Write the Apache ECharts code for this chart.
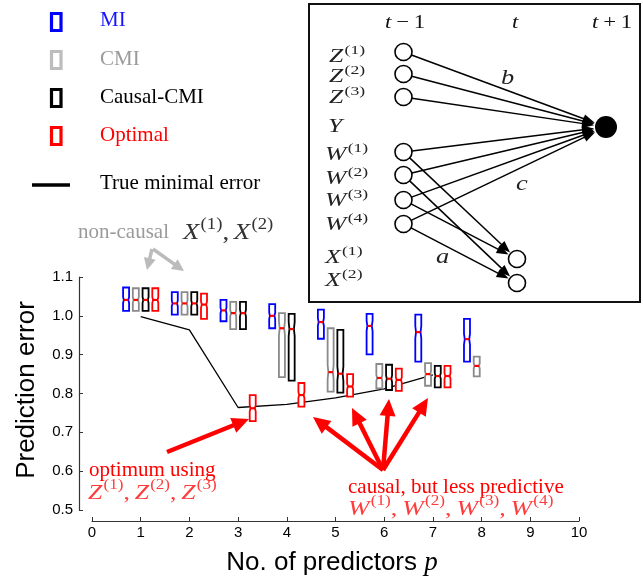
<!DOCTYPE html>
<html><head><meta charset="utf-8">
<script src="https://cdn.jsdelivr.net/npm/echarts@6/dist/echarts.min.js"></script>
<style>html,body{margin:0;padding:0;background:#fff}#c{width:643px;height:578px}</style>
</head><body><div id="c"></div>
<script>
// ---------- DATA ----------
const predictors = [1, 2, 3, 4, 5, 6, 7, 8];
const methodNames = ['MI', 'CMI', 'Causal-CMI', 'Optimal'];
// each box: [p, q1, median, q3]
const miBoxes = [
  [1, 1.013, 1.041, 1.073], [2, 1.003, 1.032, 1.061], [3, 0.986, 1.014, 1.041],
  [4, 0.968, 1.000, 1.030], [5, 0.941, 0.984, 1.016], [6, 0.901, 0.974, 1.005],
  [7, 0.882, 0.958, 1.003], [8, 0.882, 0.940, 0.992]
];
const cmiBoxes = [
  [1, 1.013, 1.041, 1.071], [2, 1.003, 1.032, 1.061], [3, 0.966, 1.007, 1.036],
  [4, 0.842, 0.968, 1.007], [5, 0.805, 0.855, 0.968], [6, 0.813, 0.840, 0.876],
  [7, 0.820, 0.850, 0.878], [8, 0.844, 0.871, 0.895]
];
const causalBoxes = [
  [1, 1.013, 1.041, 1.071], [2, 1.003, 1.032, 1.061], [3, 0.966, 1.007, 1.036],
  [4, 0.833, 0.966, 1.005], [5, 0.802, 0.851, 0.964], [6, 0.809, 0.838, 0.874],
  [7, 0.816, 0.845, 0.871]
];
const optimalBoxes = [
  [1, 1.013, 1.041, 1.071], [2, 0.992, 1.029, 1.057], [3, 0.729, 0.762, 0.796],
  [4, 0.766, 0.796, 0.827], [5, 0.792, 0.818, 0.850], [6, 0.807, 0.835, 0.864],
  [7, 0.816, 0.845, 0.871]
];
const minErrP = [1, 2, 3, 4, 5, 6, 7];
const minErr = [0.998, 0.964, 0.764, 0.772, 0.789, 0.812, 0.848];
const xTickMin = 0, xTickMax = 10, xTickStep = 1;
const yTickMin = 0.5, yTickMax = 1.1, yTickStep = 0.1;

// ---------- STYLE / LAYOUT ----------
const methodOffsets = [-0.3, -0.1, 0.1, 0.3];
const methodColors = ['#0000ff', '#8a8a8a', '#000000', '#ff0000'];
const SERIF = 'Liberation Serif';
const SANS = 'Liberation Sans';

function boxRender(offset, color) {
  return function (params, api) {
    const x = api.value(0) + offset;
    const top = api.coord([x, api.value(3)]);
    const bot = api.coord([x, api.value(1)]);
    const m = api.coord([x, api.value(2)]);
    const cx = top[0], hw = 3, ins = 0.75;
    const yt = top[1], yb = bot[1], ym = m[1];
    const n = Math.min(0.13 * (yb - yt), 7);
    const pts = [[cx - hw, yt], [cx - hw, ym - n], [cx - hw + ins, ym], [cx - hw, ym + n], [cx - hw, yb],
                 [cx + hw, yb], [cx + hw, ym + n], [cx + hw - ins, ym], [cx + hw, ym - n], [cx + hw, yt]];
    return {
      type: 'group', children: [
        { type: 'polygon', shape: { points: pts }, style: { fill: '#fff', stroke: color, lineWidth: 1.8 } },
        { type: 'line', shape: { x1: cx - hw + ins, y1: ym, x2: cx + hw - ins, y2: ym }, style: { stroke: '#ff0000', lineWidth: 2.2 } }
      ]
    };
  };
}

function arrow(x1, y1, x2, y2, color, lw, hl, hw, z) {
  const dx = x2 - x1, dy = y2 - y1, L = Math.hypot(dx, dy), ux = dx / L, uy = dy / L;
  const bx = x2 - ux * hl, by = y2 - uy * hl;
  return [
    { type: 'line', z: z, shape: { x1: x1, y1: y1, x2: bx + ux, y2: by + uy }, style: { stroke: color, lineWidth: lw } },
    { type: 'polygon', z: z, shape: { points: [[x2, y2], [bx - uy * hw, by + ux * hw], [bx + uy * hw, by - ux * hw]] }, style: { fill: color } }
  ];
}

const measureCtx = document.createElement('canvas').getContext('2d');
function fontStr(p) { return (p.it ? 'italic ' : '') + p.size + 'px ' + (p.fam || SERIF); }
// lay out pieces left-to-right around vertical center yc, horizontally stretched by sx
function mathRow(x, yc, pieces, color, sx, z) {
  sx = sx || 1;
  const out = [];
  let cx = x;
  pieces.forEach(p => {
    const f = fontStr(p);
    measureCtx.font = f;
    out.push({ type: 'text', z: z || 20, x: cx, y: yc - (p.dy || 0), scaleX: sx, style: { text: p.t, font: f, fill: color, verticalAlign: 'middle' } });
    cx += (measureCtx.measureText(p.t).width + (p.gap || 0)) * sx;
  });
  return out;
}
function seq(base, sups, size, sepSpace) {
  const pcs = [];
  sups.forEach((s, i) => {
    if (i > 0) pcs.push({ t: ',', size: size, gap: sepSpace });
    pcs.push({ t: base, it: true, size: size, gap: 1 });
    pcs.push({ t: '(' + s + ')', size: Math.round(size * 0.68), dy: size * 0.36 });
  });
  return pcs;
}

const g = [];
// ---- legend ----
const legendY = [22, 60, 98, 136];
const legendTextY = [20, 59, 97, 135];
const legendIconColors = ['#0000ff', '#bdbdbd', '#000000', '#ff0000'];
const legendTextColors = ['#1414ff', '#9a9a9a', '#000000', '#ff0000'];
methodNames.forEach((nm, i) => {
  g.push({ type: 'rect', shape: { x: 51.5, y: legendY[i] - 8.5, width: 9.5, height: 17 }, style: { fill: '#fff', stroke: legendIconColors[i], lineWidth: 3.2 } });
  g.push({ type: 'text', x: 100, y: legendTextY[i], style: { text: nm, font: '21px ' + SERIF, fill: legendTextColors[i], verticalAlign: 'middle' } });
});
g.push({ type: 'line', shape: { x1: 32, y1: 185, x2: 70, y2: 185 }, style: { stroke: '#000', lineWidth: 3.5 } });
g.push({ type: 'text', x: 100, y: 183, style: { text: 'True minimal error', font: '21px ' + SERIF, fill: '#000', verticalAlign: 'middle' } });

// ---- inset diagram ----
g.push({ type: 'rect', z: 5, shape: { x: 309, y: 4, width: 331, height: 298 }, style: { fill: '#fff', stroke: '#111', lineWidth: 2 } });
const colX = 403.5, nodeR = 8.5;
const zY = [52, 74, 97], wY = [152, 175, 200, 224];
const tgt = [606, 127], tgtR = 11;
const xN = [[517, 259], [517, 283]];
g.push(...mathRow(385, 23, [{ t: 't', it: true, size: 19, gap: 4 }, { t: '\u2212', size: 19, gap: 4 }, { t: '1', size: 19 }], '#111', 1.2));
g.push(...mathRow(512, 23, [{ t: 't', it: true, size: 19 }], '#111', 1.2));
g.push(...mathRow(592, 23, [{ t: 't', it: true, size: 19, gap: 4 }, { t: '+', size: 19, gap: 4 }, { t: '1', size: 19 }], '#111', 1.2));
function edgeTo(from, to, toR) {
  const dx = to[0] - from[0], dy = to[1] - from[1], L = Math.hypot(dx, dy);
  const sx = from[0] + dx / L * nodeR, sy = from[1] + dy / L * nodeR;
  const ex = to[0] - dx / L * (toR + 1), ey = to[1] - dy / L * (toR + 1);
  return arrow(sx, sy, ex, ey, '#000', 1.5, 12, 4.5, 10);
}
zY.forEach(y => g.push(...edgeTo([colX, y], tgt, tgtR)));
wY.forEach(y => g.push(...edgeTo([colX, y], tgt, tgtR)));
g.push(...edgeTo([colX, wY[0]], xN[0], nodeR));
g.push(...edgeTo([colX, wY[2]], xN[0], nodeR));
g.push(...edgeTo([colX, wY[1]], xN[1], nodeR));
g.push(...edgeTo([colX, wY[3]], xN[1], nodeR));
zY.concat(wY).forEach(y => g.push({ type: 'circle', z: 12, shape: { cx: colX, cy: y, r: nodeR }, style: { fill: '#fff', stroke: '#000', lineWidth: 1.6 } }));
xN.forEach(p => g.push({ type: 'circle', z: 12, shape: { cx: p[0], cy: p[1], r: nodeR }, style: { fill: '#fff', stroke: '#000', lineWidth: 1.6 } }));
g.push({ type: 'circle', z: 12, shape: { cx: tgt[0], cy: tgt[1], r: tgtR }, style: { fill: '#000' } });
[['Z', '1', 57], ['Z', '2', 77], ['Z', '3', 98]].forEach(t => g.push(...mathRow(329, t[2], seq(t[0], [t[1]], 19, 0), '#222', 1.35)));
g.push(...mathRow(328, 127, [{ t: 'Y', it: true, size: 19 }], '#222', 1.35));
[['W', '1', 155], ['W', '2', 179], ['W', '3', 201], ['W', '4', 225], ['X', '1', 258], ['X', '2', 281]].forEach(t => g.push(...mathRow(325, t[2], seq(t[0], [t[1]], 19, 0), '#222', 1.35)));
g.push(...mathRow(501, 78, [{ t: 'b', it: true, size: 22 }], '#222', 1.2));
g.push(...mathRow(516, 184, [{ t: 'c', it: true, size: 22 }], '#222', 1.2));
g.push(...mathRow(436, 257, [{ t: 'a', it: true, size: 22 }], '#222', 1.2));

// ---- annotations ----
g.push({ type: 'text', x: 78, y: 232, style: { text: 'non-causal', font: '21px ' + SERIF, fill: '#9a9a9a', verticalAlign: 'middle' } });
g.push(...mathRow(183, 233, seq('X', ['1', '2'], 23, 4), '#333', 1.17));
g.push(...arrow(152, 249, 147, 270, '#bbbbbb', 3.5, 12, 6, 15));
g.push(...arrow(153, 249, 184, 271, '#bbbbbb', 3.5, 12, 6, 15));
g.push({ type: 'text', x: 89, y: 470, style: { text: 'optimum using', font: '21px ' + SERIF, fill: '#ff0000', verticalAlign: 'middle' } });
g.push(...mathRow(88, 493, seq('Z', ['1', '2', '3'], 21, 4), '#ff3c3c', 1.22));
g.push(...arrow(167, 452, 249, 419, '#ff0000', 4.5, 17, 8, 15));
g.push({ type: 'text', x: 348, y: 487, style: { text: 'causal, but less predictive', font: '21px ' + SERIF, fill: '#ff0000', verticalAlign: 'middle' } });
g.push(...mathRow(348, 509, seq('W', ['1', '2', '3', '4'], 21, 4), '#ff3c3c', 1.23));
[[313, 417], [352, 408], [389, 399], [428, 398]].forEach(t => g.push(...arrow(383, 470, t[0], t[1], '#ff0000', 4.5, 17, 8, 15)));

// ---- axis titles ----
g.push({ type: 'text', x: 27, y: 390, rotation: Math.PI / 2, style: { text: 'Prediction error', font: '26px ' + SANS, fill: '#000', align: 'center', verticalAlign: 'middle' } });
g.push({ type: 'text', x: 332, y: 563, style: { text: '{a|No. of predictors }{b|p}', align: 'center', verticalAlign: 'middle', rich: { a: { fontFamily: SANS, fontSize: 26, fill: '#000' }, b: { fontFamily: SERIF, fontStyle: 'italic', fontSize: 27, fill: '#000' } } } });

const boxSets = [miBoxes, cmiBoxes, causalBoxes, optimalBoxes];
const series = [{
  type: 'line', name: 'True minimal error', data: minErrP.map((p, i) => [p, minErr[i]]),
  showSymbol: false, lineStyle: { color: '#000', width: 1.3 }, z: 2, silent: true
}];
boxSets.forEach((d, i) => series.push({
  type: 'custom', name: methodNames[i], data: d, renderItem: boxRender(methodOffsets[i], methodColors[i]),
  encode: { x: 0, y: [1, 2, 3] }, z: 3, silent: true
}));

const chart = echarts.init(document.getElementById('c'), null, { renderer: 'canvas' });
chart.setOption({
  animation: false,
  backgroundColor: '#fff',
  grid: { left: 92, right: 64, top: 277, bottom: 68, containLabel: false, outerBoundsMode: 'none' },
  xAxis: {
    type: 'value', min: xTickMin, max: xTickMax, interval: xTickStep, offset: 11,
    axisLine: { show: true, onZero: false, lineStyle: { color: '#333', width: 1.2 } },
    axisTick: { show: true, inside: true, length: 4, lineStyle: { color: '#333' } },
    axisLabel: { color: '#000', fontSize: 15, fontFamily: SANS, margin: 4 },
    splitLine: { show: false }
  },
  yAxis: {
    type: 'value', min: yTickMin, max: yTickMax, interval: yTickStep, offset: 13,
    axisLine: { show: true, onZero: false, lineStyle: { color: '#333', width: 1.2 } },
    axisTick: { show: true, inside: true, length: 4, lineStyle: { color: '#333' } },
    axisLabel: { color: '#000', fontSize: 15, fontFamily: SANS, margin: 6, formatter: v => v.toFixed(1) },
    splitLine: { show: false }
  },
  series: series,
  graphic: { elements: g }
});
</script></body></html>
